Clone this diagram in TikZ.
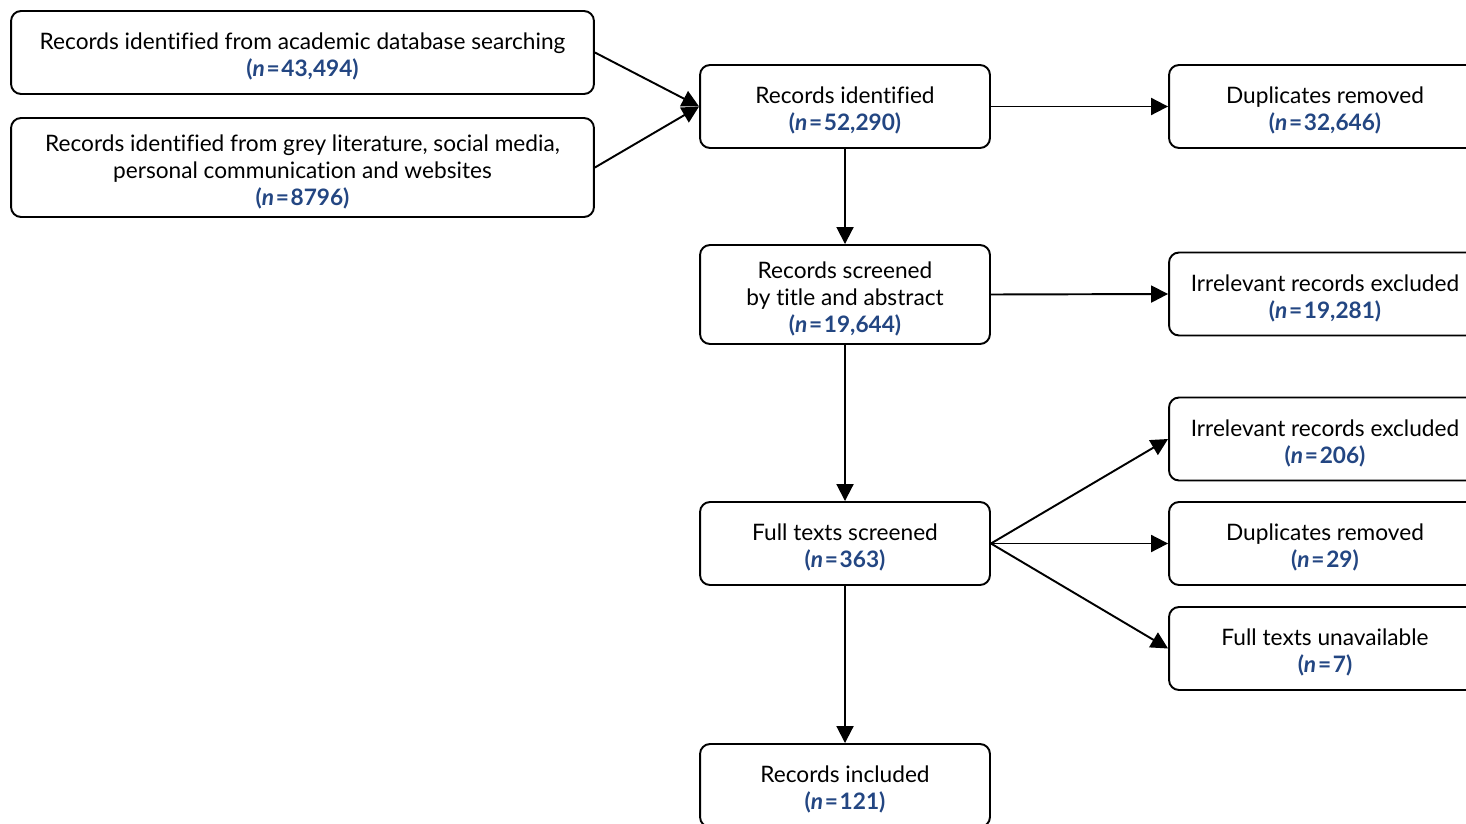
\documentclass[tikz,border=0pt]{standalone}
\usepackage{fontspec}
\setmainfont{Lato}[Ligatures=NoCommon]
\usepackage{xcolor}
\usetikzlibrary{arrows.meta}
\definecolor{nblue}{RGB}{35,70,130}
\newcommand{\nval}[1]{\textcolor{nblue}{\textbf{(\textit{n}\kern1pt=\kern1pt#1)}}}
\newcommand{\tstrut}{\rule{0pt}{1.1em}}

\begin{document}
\begin{tikzpicture}[x=0.02cm, y=-0.02cm, line join=round,
    font=\fontsize{12.9}{15.3}\selectfont,
    box/.style={draw, line width=1.1pt, rounded corners=0.2cm, align=center,
        inner sep=0pt, minimum width=5.8cm, minimum height=1.66cm},
    widebox/.style={box, minimum width=11.66cm},
    sidebox/.style={box, minimum width=6.24cm},
    arr/.style={line width=1.1pt, -{Triangle[length=0.34cm, width=0.34cm]}}]

    % Page frame of the reference (boxes on the right run past it)
    \useasboundingbox (0,0) rectangle (1466,824);

    % Sources
    \node[widebox] (acad) at (302.5, 52.5)
        {\tstrut Records identified from academic database searching\\ \nval{43,494}};
    \node[widebox, minimum height=1.98cm] (grey) at (302.5, 167.5)
        {\tstrut Records identified from grey literature, social media,\\
         personal communication and websites\\ \nval{8796}};

    % Main column
    \node[box] (ident) at (845, 106.5) {\tstrut Records identified\\ \nval{52,290}};
    \node[box, minimum height=1.98cm] (screen) at (845, 294.5)
        {\tstrut Records screened\\ by title and abstract\\ \nval{19,644}};
    \node[box] (full) at (845, 543.5) {\tstrut Full texts screened\\ \nval{363}};
    \node[box] (incl) at (845, 785.5) {\tstrut Records included\\ \nval{121}};

    % Exclusions
    \node[sidebox] (dup1) at (1325, 106.5) {\tstrut Duplicates removed\\ \nval{32,646}};
    \node[sidebox] (irr1) at (1325, 294) {\tstrut Irrelevant records excluded\\ \nval{19,281}};
    \node[sidebox] (irr2) at (1325, 439) {\tstrut Irrelevant records excluded\\ \nval{206}};
    \node[sidebox] (dup2) at (1325, 543.5) {\tstrut Duplicates removed\\ \nval{29}};
    \node[sidebox] (unav) at (1325, 648.5) {\tstrut Full texts unavailable\\ \nval{7}};

    % Connectors
    \draw[arr] (acad.east) -- (ident.west);
    \draw[arr] (grey.east) -- (ident.west);
    \draw[arr] (ident.east) -- (dup1.west);
    \draw[arr] (ident.south) -- (screen.north);
    \draw[arr] (screen.east) -- (irr1.west);
    \draw[arr] (screen.south) -- (full.north);
    \draw[arr] (full.east) -- (irr2.west);
    \draw[arr] (full.east) -- (dup2.west);
    \draw[arr] (full.east) -- (unav.west);
    \draw[arr] (full.south) -- (incl.north);

\end{tikzpicture}
\end{document}
